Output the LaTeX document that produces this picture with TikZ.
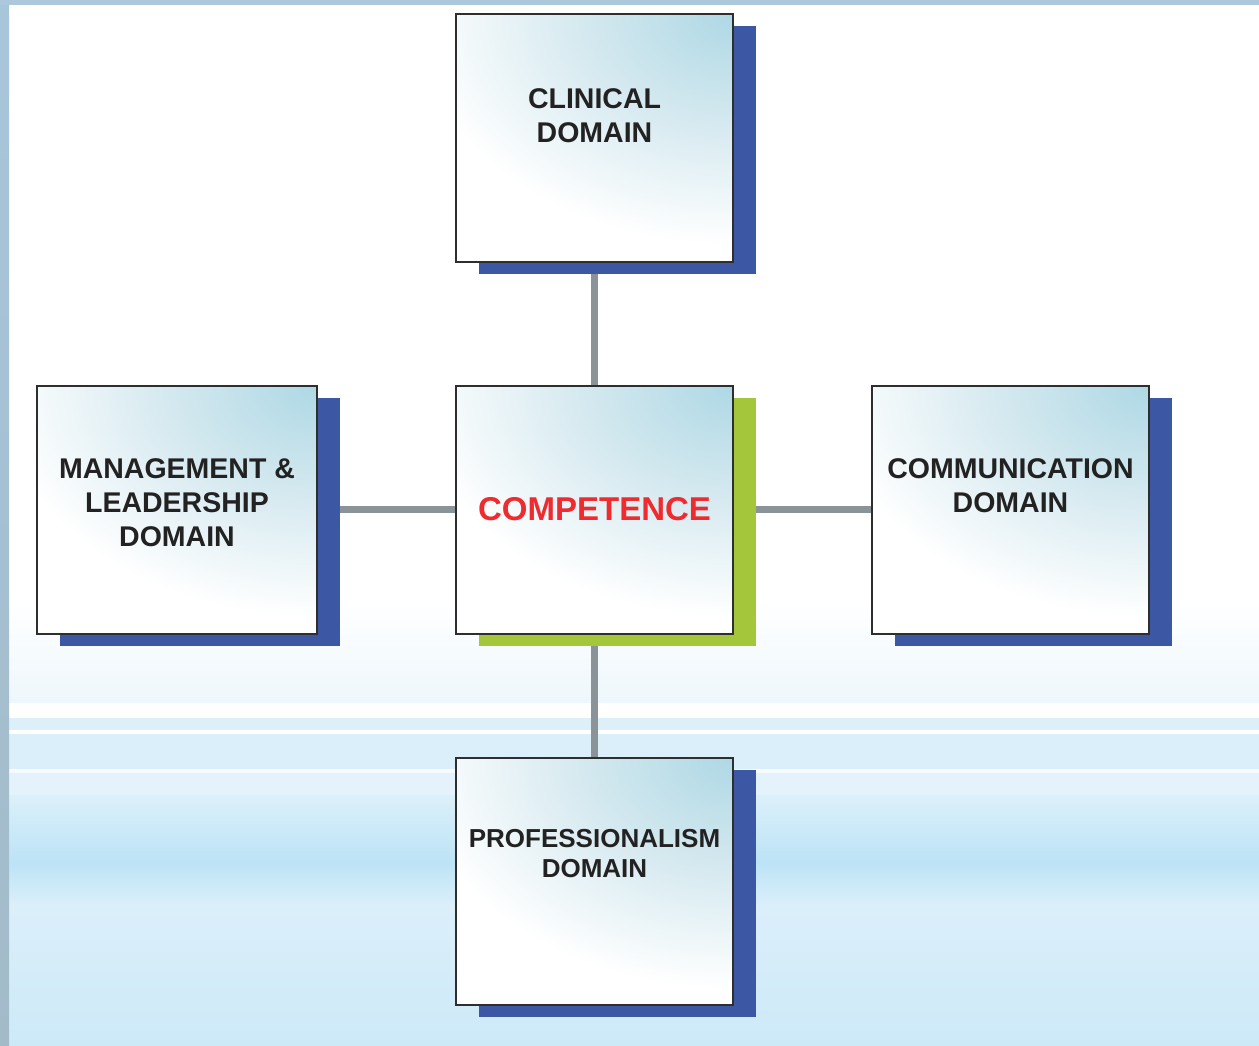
\documentclass[tikz,border=0pt]{standalone}
\usepackage{fontspec}
\setmainfont{Liberation Sans}
\usetikzlibrary{positioning,shadows,backgrounds}
\definecolor{shadowblue}{HTML}{3C58A4}
\definecolor{compgreen}{HTML}{A3C63B}
\definecolor{boxblue}{HTML}{AED8E5}
\definecolor{boxmid}{HTML}{D3E8EF}
\definecolor{boxline}{HTML}{2E2E2E}
\definecolor{linegray}{HTML}{8A9398}
\definecolor{compred}{HTML}{EE2B2F}
\definecolor{textgray}{HTML}{222222}
\definecolor{edgeblue}{HTML}{ADC8DB}
\definecolor{edgetop}{HTML}{A8C6DA}
\definecolor{edgemid}{HTML}{C8E8F8}
\definecolor{edgelow}{HTML}{A3BBC9}
\definecolor{skyA}{HTML}{EEF7FC}
\definecolor{skyB}{HTML}{DDF0FA}
\definecolor{skyC}{HTML}{DAEFFA}
\definecolor{skyD}{HTML}{F5FBFE}
\definecolor{skyE}{HTML}{E4F3FB}
\definecolor{skyF}{HTML}{DCF0FA}
\definecolor{skyG}{HTML}{BCE3F6}
\definecolor{skyH}{HTML}{DBEFFA}
\definecolor{skyI}{HTML}{CDE9F8}
\pgfdeclareradialshading{boxglow}{\pgfpointorigin}{color(0bp)=(boxblue);
  color(9bp)=(boxmid); color(20bp)=(white); color(50bp)=(white)}

\begin{document}
\begin{tikzpicture}[x=1pt,y=-1pt,
  domain/.style={draw=boxline, line width=2pt, fill=white, minimum width=277pt,
    minimum height=248pt, inner sep=0pt,
    general shadow={fill=#1, shadow xshift=23pt, shadow yshift=-12pt},
    path picture={\shade[shading=boxglow]
      (path picture bounding box.north east) ellipse (400pt and 290pt);}},
  domain/.default=shadowblue,
  title/.style={font=\bfseries\fontsize{28.5}{34}\selectfont, text=textgray,
    align=center, inner sep=0pt, outer sep=0pt, anchor=north},
  link/.style={draw=linegray, line width=7pt}]
\useasboundingbox (0,0) rectangle (1259,1045);

\node[domain=compgreen, font=\bfseries\fontsize{33}{40}\selectfont, text=compred]
  (comp) at (594.5,509.5) {COMPETENCE};
\node[domain, above=122pt of comp] (clin) {};
\node[domain, minimum width=280pt, left=137pt of comp] (mgmt) {};
\node[domain, right=137pt of comp] (comm) {};
\node[domain, minimum height=247pt, below=122pt of comp] (prof) {};

\node[title, below=76pt of clin.north] (clintext) {CLINICAL\\DOMAIN};
\node[title, below=74pt of mgmt.north] (mgmttext) {MANAGEMENT \&\\LEADERSHIP\\DOMAIN};
\node[title, below=74pt of comm.north] (commtext) {COMMUNICATION\\DOMAIN};
\node[title, font=\bfseries\fontsize{26}{30}\selectfont, below=73pt of prof.north]
  (proftext) {PROFESSIONALISM\\DOMAIN};

\begin{scope}[on background layer]
  \fill[white] (0,0) rectangle (1259,1045);
  \shade[top color=white, bottom color=skyA] (0,600) rectangle (1259,703);
  \fill[white] (0,703) rectangle (1259,718);
  \fill[skyB] (0,718) rectangle (1259,730);
  \fill[white] (0,730) rectangle (1259,734);
  \fill[skyC] (0,734) rectangle (1259,769);
  \fill[skyD] (0,769) rectangle (1259,773);
  \fill[skyE] (0,773) rectangle (1259,795);
  \shade[top color=skyF, bottom color=skyG] (0,795) rectangle (1259,862);
  \shade[top color=skyG, bottom color=skyH] (0,862) rectangle (1259,905);
  \shade[top color=skyH, bottom color=skyI] (0,905) rectangle (1259,1045);
  \fill[edgeblue] (0,0) rectangle (1259,5);
  \shade[top color=edgetop, middle color=edgemid, bottom color=edgelow]
    (0,5) rectangle (9,1045);
  \draw[link] (clin) -- (comp) -- (prof);
  \draw[link] (mgmt) -- (comp) -- (comm);
\end{scope}
\end{tikzpicture}
\end{document}
